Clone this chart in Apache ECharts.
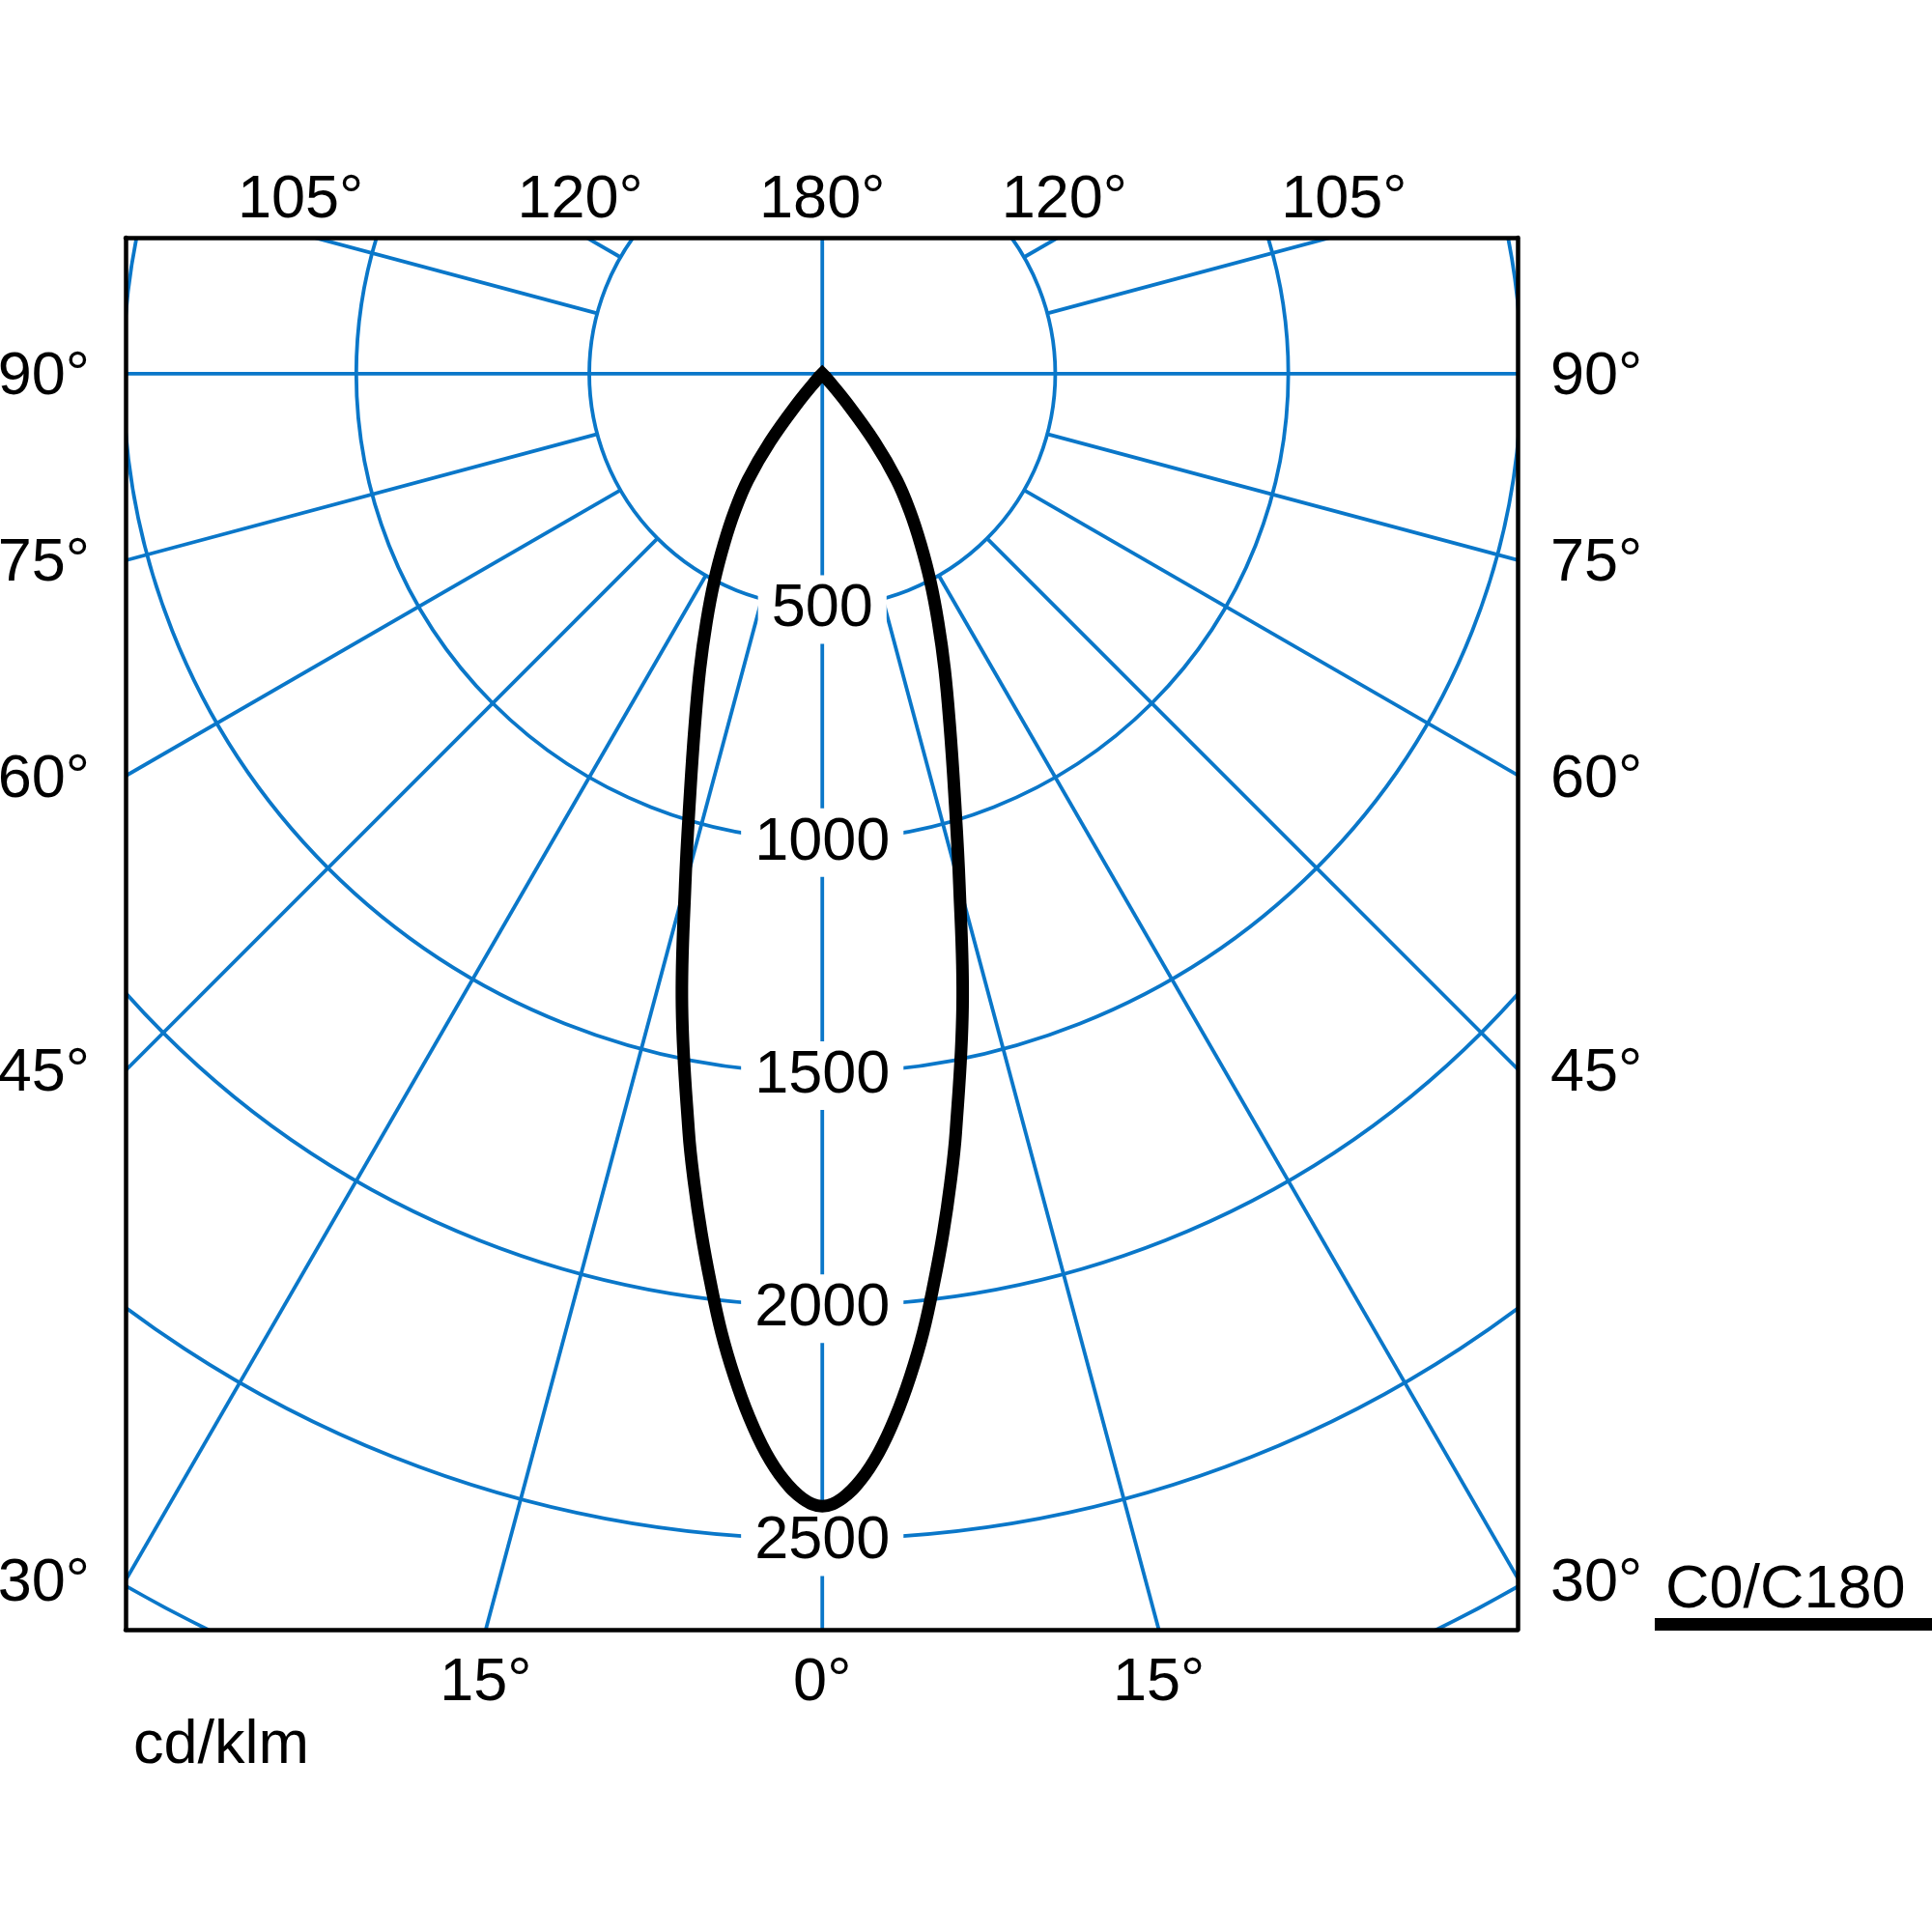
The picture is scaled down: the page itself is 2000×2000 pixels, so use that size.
<!DOCTYPE html>
<html>
<head>
<meta charset="utf-8">
<script src="https://cdn.jsdelivr.net/npm/echarts@6/dist/echarts.min.js"></script>
<style>html,body{margin:0;padding:0;background:#fff}#chart{width:2000px;height:2000px}</style>
</head>
<body>
<div id="chart"></div>
<script>
// ---- data (cd/klm), C0/C180 plane ----
const gammaDeg      = [0, 1, 2, 3, 4, 5, 6, 7, 8, 9, 10, 12.5, 15, 17.5, 20, 22.5, 25, 27.5, 30, 32.5, 35, 37.5, 40, 42.5, 45];
const intensityC0   = [2430, 2414, 2375, 2318, 2245, 2161, 2069, 1966, 1863, 1758, 1651, 1391, 1137, 943, 799, 686, 588, 502, 422, 350, 278, 184, 80, 20, 0];
const intensityC180 = [2430, 2414, 2375, 2318, 2245, 2161, 2069, 1966, 1863, 1758, 1651, 1391, 1137, 943, 799, 686, 588, 502, 422, 350, 278, 184, 80, 20, 0];
const radiusTicks   = [500, 1000, 1500, 2000, 2500, 3000];
const radiusLabels  = [500, 1000, 1500, 2000, 2500];
const spokeAngles   = [0, 15, 30, 45, 60, 75, 90, 105, 120, 135, 150, 165, 180, 195, 210, 225, 240, 255, 270, 285, 300, 315, 330, 345];
const sideAngleLabels   = [90, 75, 60, 45, 30];
const topAngleLabels    = [-105, -120, 180, 120, 105];
const bottomAngleLabels = [-15, 0, 15];
const unitLabel   = 'cd/klm';
const legendLabel = 'C0/C180';

// ---- layout ----
const BLUE = '#0a77c9';
const FONT = 'Liberation Sans';
const FS = 63;
const xMin = -1495, xMax = 1492, yMin = -292, yMax = 2695;
const topLabelDepth = 300;
const rad = d => d * Math.PI / 180;

const bottomMap = {}, topMap = {}, sideMap = {};
const bottomVals = bottomAngleLabels.map(a => { const v = yMax * Math.tan(rad(a)); bottomMap[v.toFixed(2)] = Math.abs(a) + '°'; return v; });
const topVals = topAngleLabels.map(a => {
  const v = Math.abs(a) === 180 ? 0 : Math.sign(a) * topLabelDepth * Math.tan(rad(180 - Math.abs(a)));
  topMap[v.toFixed(2)] = Math.abs(a) + '°'; return v;
});
const sideVals = sideAngleLabels.map(a => { const v = Math.abs(xMin) * Math.tan(rad(90 - a)); sideMap[v.toFixed(2)] = a + '°'; return v; });

const fmt = map => v => map[Number(v).toFixed(2)] || '';

// curve: start at the apex, down the C0 side, through the nadir, up the C180 side back to the apex
const curvePts = [];
for (let i = gammaDeg.length - 1; i >= 0; i--) {
  const g = rad(gammaDeg[i]);
  curvePts.push([intensityC0[i] * Math.sin(g), intensityC0[i] * Math.cos(g)]);
}
for (let i = 1; i < gammaDeg.length; i++) {
  const g = rad(gammaDeg[i]);
  curvePts.push([-intensityC180[i] * Math.sin(g), intensityC180[i] * Math.cos(g)]);
}

// smooth path (cardinal spline) through the pixel positions given by the axes
function smoothPath(P, s) {
  const n = P.length, cin = [], cout = [];
  for (let i = 0; i < n; i++) {
    if (i === 0 || i === n - 1) { cin[i] = P[i]; cout[i] = P[i]; continue; }
    const pr = P[i - 1], p = P[i], nx = P[i + 1];
    const vx = (nx[0] - pr[0]) * s, vy = (nx[1] - pr[1]) * s;
    const d0 = Math.hypot(p[0] - pr[0], p[1] - pr[1]);
    const d1 = Math.hypot(nx[0] - p[0], nx[1] - p[1]);
    const sum = (d0 + d1) || 1;
    cin[i] = [p[0] - vx * d0 / sum, p[1] - vy * d0 / sum];
    cout[i] = [p[0] + vx * d1 / sum, p[1] + vy * d1 / sum];
  }
  let d = 'M' + P[0][0] + ',' + P[0][1];
  for (let i = 0; i < n - 1; i++) {
    d += ' C' + cout[i][0] + ',' + cout[i][1] + ' ' + cin[i + 1][0] + ',' + cin[i + 1][1] + ' ' + P[i + 1][0] + ',' + P[i + 1][1];
  }
  return d;
}

const axisCommon = {
  type: 'value',
  axisLine: { show: true, onZero: false, lineStyle: { color: '#000', width: 4.5 } },
  axisTick: { show: false },
  splitLine: { show: false },
  z: 10
};
const labelCommon = { fontSize: FS, fontFamily: FONT, color: '#000' };

const chart = echarts.init(document.getElementById('chart'));
chart.setOption({
  animation: false,
  backgroundColor: '#fff',
  grid: { left: 130, top: 246, width: 1441, height: 1441, containLabel: false, outerBoundsMode: 'none' },
  xAxis: [
    Object.assign({}, axisCommon, { position: 'bottom', min: xMin, max: xMax,
      axisLabel: Object.assign({}, labelCommon, { margin: 24, customValues: bottomVals, formatter: fmt(bottomMap) }) }),
    Object.assign({}, axisCommon, { position: 'top', min: xMin, max: xMax,
      axisLabel: Object.assign({}, labelCommon, { margin: 7, customValues: topVals, formatter: fmt(topMap) }) })
  ],
  yAxis: [
    Object.assign({}, axisCommon, { position: 'left', inverse: true, min: yMin, max: yMax,
      axisLabel: Object.assign({}, labelCommon, { margin: 37, verticalAlign: 'top', lineHeight: 8, customValues: sideVals, formatter: fmt(sideMap) }) }),
    Object.assign({}, axisCommon, { position: 'right', inverse: true, min: yMin, max: yMax,
      axisLabel: Object.assign({}, labelCommon, { margin: 34, verticalAlign: 'top', lineHeight: 8, customValues: sideVals, formatter: fmt(sideMap) }) })
  ],
  series: [
    {
      type: 'custom', coordinateSystem: 'cartesian2d', clip: true, silent: true, z: 1,
      data: radiusTicks.map(r => [0, 0, r]), encode: { x: 0, y: 1 },
      renderItem: (params, api) => {
        const c = api.coord([0, 0]);
        const r = api.size([api.value(2), 0])[0];
        return { type: 'circle', shape: { cx: c[0], cy: c[1], r: r }, style: { fill: 'none', stroke: BLUE, lineWidth: 3.8 } };
      }
    },
    {
      type: 'custom', coordinateSystem: 'cartesian2d', clip: true, silent: true, z: 1,
      data: spokeAngles.map(a => [0, 0, a]), encode: { x: 0, y: 1 },
      renderItem: (params, api) => {
        const aDeg = api.value(2), a = rad(aDeg);
        const r0 = aDeg % 90 === 0 ? 0 : radiusTicks[0];
        const r1 = radiusTicks[radiusTicks.length - 1] * 2;
        const p0 = api.coord([r0 * Math.sin(a), r0 * Math.cos(a)]);
        const p1 = api.coord([r1 * Math.sin(a), r1 * Math.cos(a)]);
        return { type: 'line', shape: { x1: p0[0], y1: p0[1], x2: p1[0], y2: p1[1] }, style: { stroke: BLUE, lineWidth: 3.8 } };
      }
    },
    {
      type: 'custom', coordinateSystem: 'cartesian2d', silent: true, z: 3,
      data: radiusLabels.map(r => [0, r, r]), encode: { x: 0, y: 1 },
      renderItem: (params, api) => {
        const p = api.coord([api.value(0), api.value(1)]);
        return { type: 'text', x: p[0], y: p[1] + 3,
          style: { text: String(api.value(2)), fill: '#000', fontSize: FS, fontFamily: FONT,
                   align: 'center', verticalAlign: 'middle', backgroundColor: '#fff', padding: [4, 14] } };
      }
    },
    {
      name: legendLabel, type: 'custom', coordinateSystem: 'cartesian2d', silent: true, z: 5,
      data: [[0, 0]], encode: { x: 0, y: 1 },
      renderItem: (params, api) => ({
        type: 'path',
        shape: { pathData: smoothPath(curvePts.map(p => api.coord(p)), 0.4) },
        style: { fill: 'none', stroke: '#000', lineWidth: 13, lineCap: 'square', lineJoin: 'miter', miterLimit: 10 }
      })
    }
  ],
  graphic: [
    { type: 'text', x: 138, y: 1839, style: { text: unitLabel, fill: '#000', fontSize: FS, fontFamily: FONT, verticalAlign: 'bottom' } },
    { type: 'text', x: 1724, y: 1678, style: { text: legendLabel, fill: '#000', fontSize: FS, fontFamily: FONT, verticalAlign: 'bottom' } },
    { type: 'rect', shape: { x: 1713, y: 1675, width: 287, height: 13 }, style: { fill: '#000' } }
  ]
});
</script>
</body>
</html>
